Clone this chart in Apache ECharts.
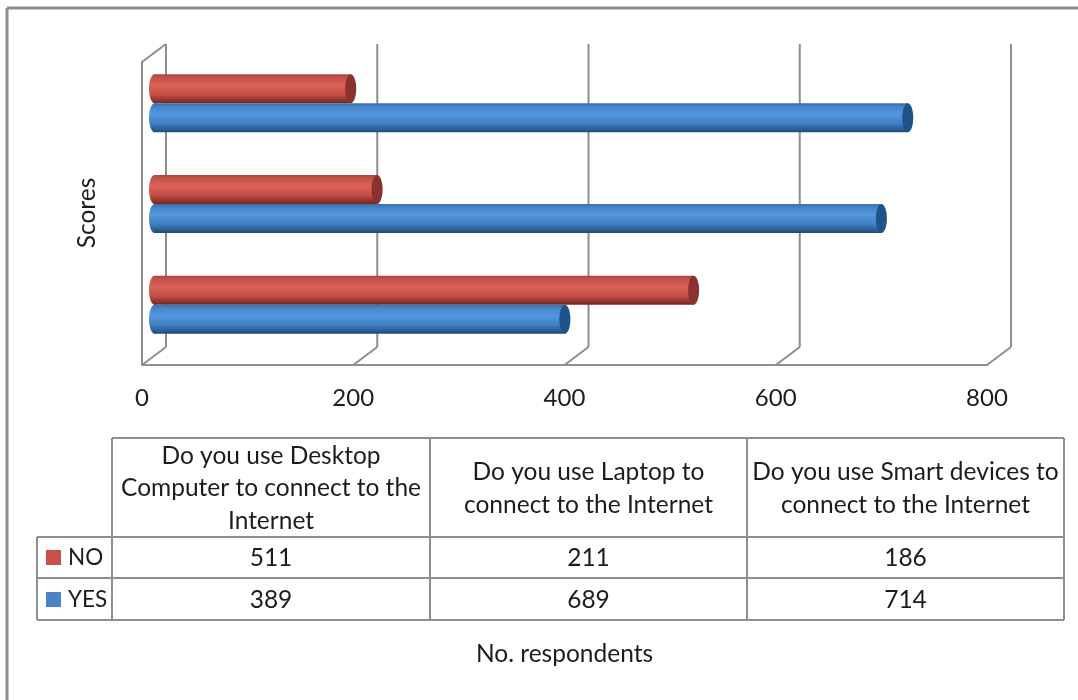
<!DOCTYPE html>
<html><head><meta charset="utf-8">
<style>html,body{margin:0;padding:0;background:#fff}#c{width:1078px;height:700px}</style>
<script src="https://cdn.jsdelivr.net/npm/echarts@6/dist/echarts.min.js"></script>
</head><body><div id="c"></div>
<script>
const categories = ['Do you use Desktop Computer to connect to the Internet','Do you use Laptop to connect to the Internet','Do you use Smart devices to connect to the Internet'];
const categoryLines = [['Do you use Desktop','Computer to connect to the','Internet'],['Do you use Laptop to','connect to the Internet'],['Do you use Smart devices to','connect to the Internet']];
const noValues = [511, 211, 186];
const yesValues = [389, 689, 714];
const tickValues = [0, 200, 400, 600, 800];

const FONT = 'Lato', INK = '#1c1c1c', LINE = '#8e8e8e';
const grad = (stops) => new echarts.graphic.LinearGradient(0,0,0,1,stops.map((c,i)=>({offset:c[0],color:c[1]})));
const redGrad = () => grad([[0,'#a8443e'],[0.12,'#c4524a'],[0.38,'#dd6258'],[0.7,'#c44d46'],[0.92,'#8a2f2a'],[1,'#742622']]);
const blueGrad = () => grad([[0,'#3570ae'],[0.12,'#4684c8'],[0.38,'#5597de'],[0.7,'#3f7fc2'],[0.92,'#285a8e'],[1,'#1f4a76']]);
const BAR_H = 29, OFFSET = 14.5;

function capSeries(name, values, dir, fill, dark){
  return {type:'custom',name:name+' caps',xAxisIndex:1,yAxisIndex:1,z:4,silent:true,
    data:values.map((v,i)=>[v,i]),
    renderItem(params,api){
      const end=api.coord([api.value(0),api.value(1)]);
      const start=api.coord([0,api.value(1)]);
      const cy=end[1]+dir*OFFSET;
      return {type:'group',children:[
        {type:'ellipse',shape:{cx:start[0],cy,rx:5.5,ry:BAR_H/2},style:{fill:fill()}},
        {type:'ellipse',shape:{cx:end[0],cy,rx:5.5,ry:BAR_H/2},style:{fill:dark}}
      ]};
    }};
}

const wallSeries = {type:'custom',name:'walls',xAxisIndex:0,yAxisIndex:0,z:1,silent:true,clip:false,
  data:tickValues.map(t=>[t]),
  renderItem(params,api){
    const top=api.coord([api.value(0),1]), bot=api.coord([api.value(0),0]);
    const dx=-24, dy=18;
    const st={stroke:LINE,lineWidth:2,fill:null};
    const kids=[
      {type:'line',shape:{x1:top[0],y1:top[1],x2:bot[0],y2:bot[1]},style:st},
      {type:'line',shape:{x1:bot[0],y1:bot[1],x2:bot[0]+dx,y2:bot[1]+dy},style:st}
    ];
    if(params.dataIndex===0){
      kids.push({type:'polyline',shape:{points:[[top[0],top[1]],[top[0]+dx,top[1]+dy],[bot[0]+dx,bot[1]+dy]]},style:st});
    }
    return {type:'group',children:kids};
  }};

// table + frame
const cols=[112,430,747,1064], left=37, rows=[438,537,578,620];
const g=[];
const ln=(x1,y1,x2,y2,w)=>g.push({type:'line',shape:{x1,y1,x2,y2},style:{stroke:LINE,lineWidth:w||2},z:1});
const tx=(text,x,y)=>g.push({type:'text',x,y,z:2,style:{text,fill:INK,font:'24.5px '+FONT,align:'center',verticalAlign:'middle'}});
ln(7,8,1078,8,3); ln(7,8,7,700,3);
cols.forEach(x=>ln(x,rows[0],x,rows[3]));
ln(left,rows[1],left,rows[3]);
ln(cols[0],rows[0],cols[3],rows[0]);
rows.slice(1).forEach(y=>ln(left,y,cols[3],y));
categoryLines.forEach((lines,i)=>{
  const cx=(cols[i]+cols[i+1])/2, mid=(rows[0]+rows[1])/2+1;
  lines.forEach((s,j)=>tx(s,cx,mid+(j-(lines.length-1)/2)*32.5));
  tx(String(noValues[i]),cx,(rows[1]+rows[2])/2+1);
  tx(String(yesValues[i]),cx,(rows[2]+rows[3])/2+1);
});
g.push({type:'text',x:87,y:213,rotation:Math.PI/2,z:2,style:{text:'Scores',fill:INK,font:'24.5px '+FONT,align:'center',verticalAlign:'middle'}});

const hiddenX={type:'value',min:0,max:800,interval:200,show:false};
const hiddenY={type:'category',data:categories,show:false};
const chart=echarts.init(document.getElementById('c'),null,{renderer:'canvas'});
chart.setOption({
  animation:false,backgroundColor:'#fff',
  textStyle:{fontFamily:FONT},
  legend:{orient:'vertical',left:41,top:541,itemWidth:15,itemHeight:15,itemGap:19,icon:'rect',selectedMode:false,
    textStyle:{fontFamily:FONT,fontSize:22.5,color:INK,padding:[0,0,0,2]},
    data:[{name:'NO',itemStyle:{color:'#c9504a'}},{name:'YES',itemStyle:{color:'#4a84c4'}}]},
  grid:[
    {left:166,width:845,top:44,height:303},
    {left:154.5,width:844,top:53,height:302},
    {left:142,width:845,top:300,height:65}
  ],
  xAxis:[
    Object.assign({gridIndex:0},hiddenX),
    Object.assign({gridIndex:1},hiddenX),
    {gridIndex:2,type:'value',min:0,max:800,interval:200,
      axisLine:{show:true,onZero:false,lineStyle:{color:LINE,width:2}},axisTick:{show:false},splitLine:{show:false},
      axisLabel:{color:INK,fontFamily:FONT,fontSize:24,margin:21,formatter:v=>String(v),hideOverlap:false},
      name:'No. respondents',nameLocation:'middle',nameGap:277,nameTextStyle:{color:INK,fontFamily:FONT,fontSize:24.5}}
  ],
  yAxis:[
    {gridIndex:0,type:'value',min:0,max:1,show:false},
    Object.assign({gridIndex:1},hiddenY),
    {gridIndex:2,type:'value',min:0,max:1,show:false}
  ],
  series:[
    wallSeries,
    {type:'bar',name:'NO',xAxisIndex:1,yAxisIndex:1,data:noValues,barWidth:BAR_H,barGap:'0%',z:3,itemStyle:{color:redGrad()}},
    {type:'bar',name:'YES',xAxisIndex:1,yAxisIndex:1,data:yesValues,barWidth:BAR_H,barGap:'0%',z:3,itemStyle:{color:blueGrad()}},
    capSeries('YES',yesValues,1,blueGrad,'#1f5488'),
    capSeries('NO',noValues,-1,redGrad,'#8a322d')
  ],
  graphic:{elements:g}
});
</script></body></html>
